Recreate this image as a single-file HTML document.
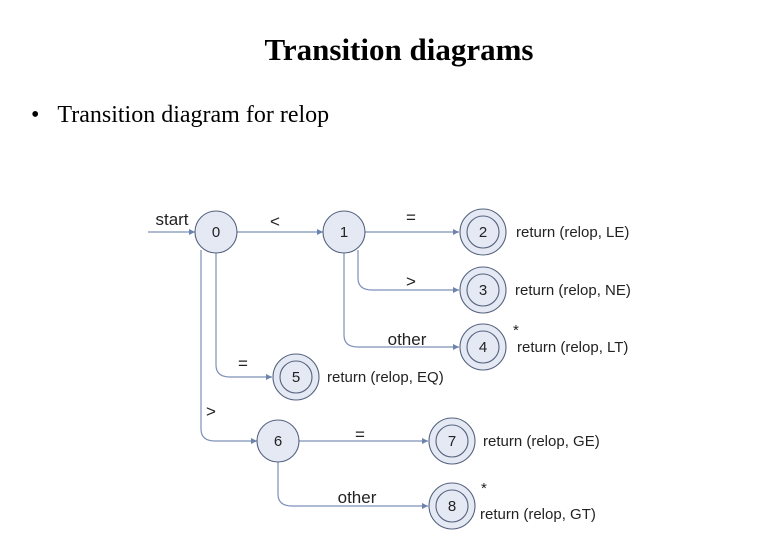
<!DOCTYPE html>
<html><head><meta charset="utf-8"><style>
body{margin:0;width:780px;height:540px;background:#fff;overflow:hidden;position:relative;font-family:"Liberation Serif",serif}
.t{position:absolute;top:33px;left:0;width:798px;text-align:center;font-weight:bold;font-size:31px;line-height:34px}
.b{position:absolute;top:101px;left:31px;font-size:24px;line-height:28px}
</style></head><body>
<div class="t">Transition diagrams</div>
<div class="b">•&nbsp;&nbsp;&nbsp;Transition diagram for relop</div>
<svg width="780" height="540" style="position:absolute;left:0;top:0" font-family="Liberation Sans, sans-serif">
<defs><marker id="a" markerWidth="6" markerHeight="6" refX="5" refY="3" orient="auto"><path d="M0,0.5 L5,3 L0,5.5z" fill="#6d83ad"/></marker></defs>
<g fill="none" stroke="#7d90b8" stroke-width="1.2" marker-end="url(#a)">
<path d="M148,232 H195"/>
<path d="M237,232 H323"/>
<path d="M365,232 H459"/>
<path d="M358,250 V278 Q358,290 372,290 H459"/>
<path d="M344,253 V335 Q344,347 358,347 H459"/>
<path d="M216,253 V365 Q216,377 230,377 H272"/>
<path d="M201,250 V429 Q201,441 215,441 H257"/>
<path d="M299,441 H428"/>
<path d="M278,462 V494 Q278,506 292,506 H428"/>
</g>
<g stroke="#56627e" stroke-width="1.1" fill="#e4e9f4">
<circle cx="216" cy="232" r="21"/><circle cx="344" cy="232" r="21"/><circle cx="278" cy="441" r="21"/>
<circle cx="483" cy="232" r="23"/><circle cx="483" cy="232" r="16" fill="none"/>
<circle cx="483" cy="290" r="23"/><circle cx="483" cy="290" r="16" fill="none"/>
<circle cx="483" cy="347" r="23"/><circle cx="483" cy="347" r="16" fill="none"/>
<circle cx="296" cy="377" r="23"/><circle cx="296" cy="377" r="16" fill="none"/>
<circle cx="452" cy="441" r="23"/><circle cx="452" cy="441" r="16" fill="none"/>
<circle cx="452" cy="506" r="23"/><circle cx="452" cy="506" r="16" fill="none"/>
</g>
<g font-size="15" text-anchor="middle" fill="#222">
<text x="216" y="237">0</text><text x="344" y="237">1</text><text x="483" y="237">2</text><text x="483" y="295">3</text><text x="483" y="352">4</text><text x="296" y="382">5</text><text x="278" y="446">6</text><text x="452" y="446">7</text><text x="452" y="511">8</text>
</g>
<g font-size="17" text-anchor="middle" fill="#222">
<text x="172" y="225">start</text><text x="275" y="227">&lt;</text><text x="411" y="223">=</text><text x="411" y="287">&gt;</text><text x="407" y="345">other</text><text x="243" y="369">=</text><text x="211" y="417">&gt;</text><text x="360" y="440">=</text><text x="357" y="503">other</text>
</g>
<g font-size="15" fill="#222">
<text x="516" y="237">return (relop, LE)</text>
<text x="515" y="295">return (relop, NE)</text>
<text x="517" y="352">return (relop, LT)</text>
<text x="513" y="335">*</text>
<text x="327" y="382">return (relop, EQ)</text>
<text x="483" y="446">return (relop, GE)</text>
<text x="480" y="519">return (relop, GT)</text>
<text x="481" y="493">*</text>
</g>
</svg>
</body></html>
